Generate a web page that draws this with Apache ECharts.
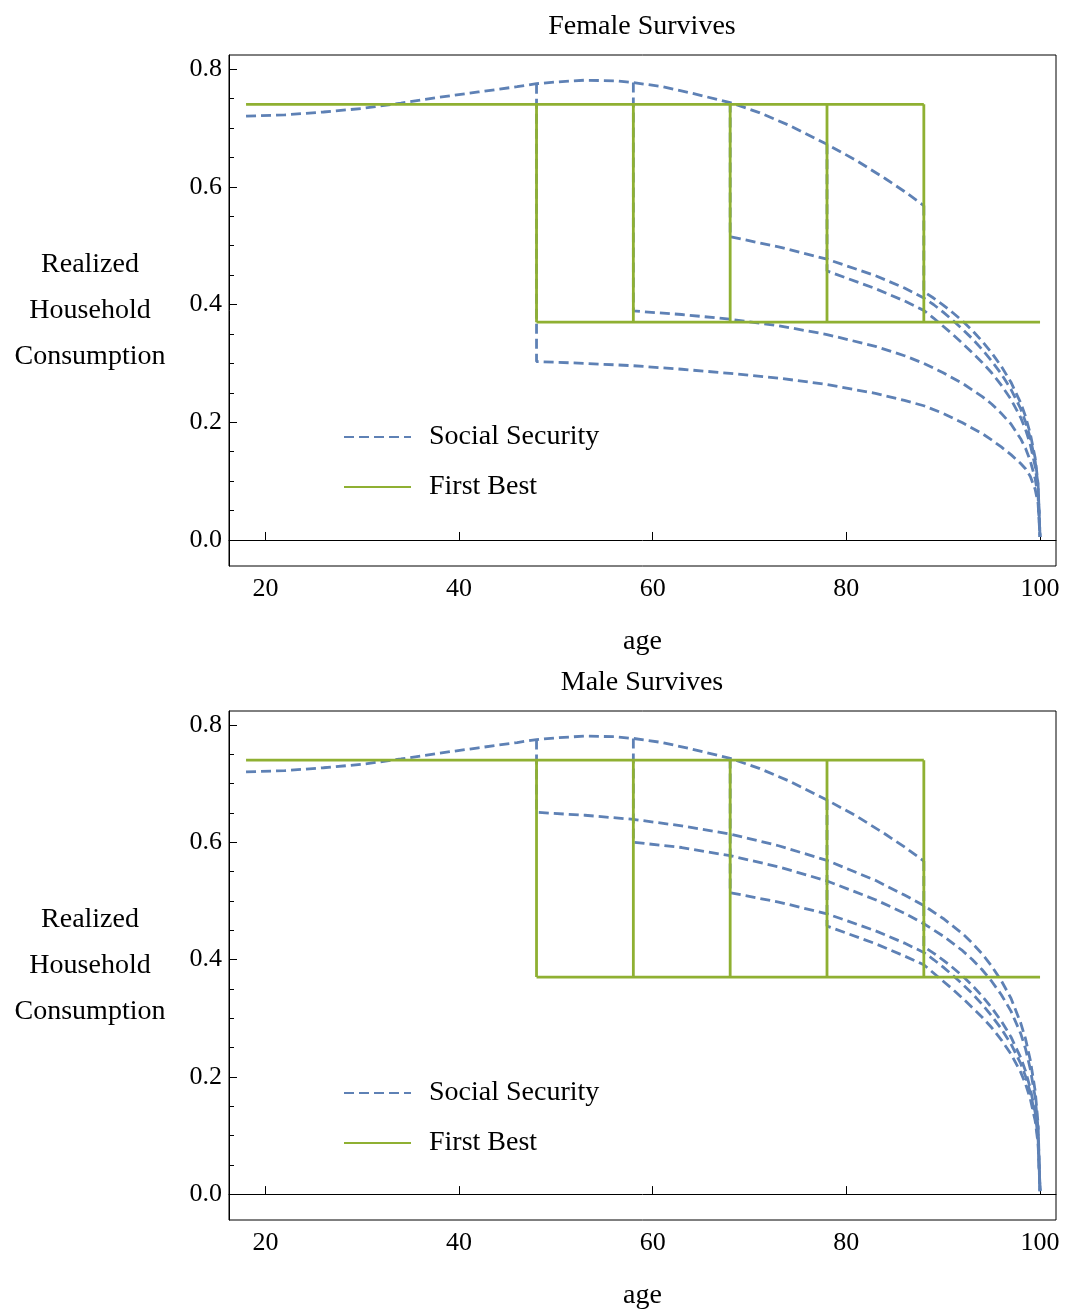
<!DOCTYPE html>
<html>
<head>
<meta charset="utf-8">
<script src="https://cdn.jsdelivr.net/npm/echarts@6/dist/echarts.min.js"></script>
<style>
  html, body { margin: 0; padding: 0; background: #ffffff; }
  #chart { width: 1065px; height: 1311px; }
</style>
</head>
<body>
<div id="chart"></div>
<script>
// ---- axis ticks ----
const ageTicks = [20, 40, 60, 80, 100];
const consTicks = [0, 0.2, 0.4, 0.6, 0.8];
const consMinorTicks = [0.05, 0.1, 0.15, 0.25, 0.3, 0.35, 0.45, 0.5, 0.55, 0.65, 0.7, 0.75];

// ---- first-best allocation ----
const deathAges = [48, 58, 68, 78, 88];
const firstBestCouple = 0.74;
const firstBestSurvivor = 0.37;
const firstBestStart = 18;
const lifeEnd = 100;

// ---- social security: consumption while both spouses are alive ----
const coupleAges = [18, 22, 26, 30, 34, 38, 42, 46, 48, 50, 53, 56, 58, 61, 64, 68, 71, 74, 78, 81, 84, 86, 88];
const coupleCons = [0.720, 0.722, 0.727, 0.733, 0.742, 0.752, 0.761, 0.770, 0.775, 0.778, 0.781, 0.780, 0.777,
                    0.770, 0.759, 0.743, 0.726, 0.705, 0.672, 0.645, 0.614, 0.592, 0.568];

// ---- social security: survivor paths [age, consumption], one per spouse death age ----
const femaleAfter48 = [[48,0.303],[53,0.300],[58,0.296],[63,0.290],[68,0.283],[73,0.275],[78,0.264],[83,0.249],[86,0.237],[88,0.228],[90,0.215],[92,0.199],[94,0.181],[95,0.170],[96,0.158],[97,0.145],[98,0.130],[98.5,0.121],[99,0.108],[99.5,0.086],[99.8,0.062],[100,0.005]];
const femaleAfter58 = [[58,0.389],[63,0.383],[68,0.375],[73,0.364],[78,0.349],[83,0.329],[86,0.313],[88,0.300],[90,0.284],[92,0.266],[94,0.244],[95,0.231],[96,0.215],[97,0.197],[98,0.172],[98.5,0.156],[99,0.134],[99.5,0.104],[99.8,0.074],[100,0.005]];
const femaleAfter68 = [[68,0.515],[73,0.498],[78,0.477],[83,0.449],[86,0.428],[88,0.411],[89,0.400],[90,0.387],[91,0.373],[92,0.358],[93,0.342],[94,0.324],[95,0.304],[96,0.282],[97,0.256],[98,0.223],[98.5,0.201],[99,0.173],[99.5,0.134],[99.8,0.092],[100,0.005]];
const femaleAfter78 = [[78,0.457],[83,0.427],[86,0.406],[88,0.390],[89,0.377],[90,0.363],[91,0.349],[92,0.334],[94,0.302],[95,0.284],[96,0.263],[97,0.239],[98,0.208],[98.5,0.188],[99,0.162],[99.5,0.125],[99.8,0.086],[100,0.005]];
const femaleAfter88 = [[88,0.422],[89,0.411],[90,0.399],[91,0.386],[92,0.372],[93,0.356],[94,0.338],[95,0.318],[96,0.295],[97,0.268],[98,0.233],[98.5,0.210],[99,0.180],[99.5,0.139],[99.8,0.095],[100,0.005]];

const maleAfter48 = [[48,0.651],[53,0.646],[58,0.639],[63,0.628],[68,0.614],[73,0.594],[78,0.569],[83,0.535],[86,0.510],[88,0.492],[90,0.470],[92,0.444],[93,0.428],[94,0.410],[95,0.389],[96,0.364],[97,0.334],[98,0.292],[98.5,0.265],[99,0.228],[99.5,0.176],[99.8,0.120],[100,0.005]];
const maleAfter58 = [[58,0.600],[63,0.591],[68,0.577],[73,0.558],[78,0.534],[83,0.502],[86,0.479],[88,0.461],[90,0.440],[92,0.415],[93,0.400],[94,0.383],[95,0.363],[96,0.340],[97,0.312],[98,0.274],[98.5,0.248],[99,0.213],[99.5,0.165],[99.8,0.112],[100,0.005]];
const maleAfter68 = [[68,0.514],[73,0.498],[78,0.478],[83,0.449],[86,0.428],[88,0.412],[89,0.400],[90,0.387],[91,0.373],[92,0.358],[93,0.342],[94,0.324],[95,0.304],[96,0.282],[97,0.256],[98,0.223],[98.5,0.201],[99,0.173],[99.5,0.134],[99.8,0.092],[100,0.005]];
const maleAfter78 = [[78,0.457],[83,0.427],[86,0.406],[88,0.391],[89,0.377],[90,0.363],[91,0.349],[92,0.334],[94,0.302],[95,0.284],[96,0.263],[97,0.239],[98,0.208],[98.5,0.188],[99,0.162],[99.5,0.125],[99.8,0.086],[100,0.005]];
const maleAfter88 = [[88,0.422],[89,0.411],[90,0.399],[91,0.386],[92,0.372],[93,0.356],[94,0.338],[95,0.318],[96,0.295],[97,0.268],[98,0.233],[98.5,0.210],[99,0.180],[99.5,0.139],[99.8,0.095],[100,0.005]];

const panels = [
  { title: 'Female Survives', paths: [femaleAfter48, femaleAfter58, femaleAfter68, femaleAfter78, femaleAfter88] },
  { title: 'Male Survives',   paths: [maleAfter48, maleAfter58, maleAfter68, maleAfter78, maleAfter88] }
];

// ---- styling ----
const SERIF = 'Liberation Serif';
const BLUE = '#5E81B5';
const GREEN = '#8FB032';
const FS_TEXT = 28;
const FS_TICK = 26;

const gridTops = [55, 711];
const gridHeight = 511;

const coupleAt = a => coupleCons[coupleAges.indexOf(a)];

const grids = [], xAxes = [], yAxes = [], series = [], titles = [], legends = [];

panels.forEach((p, g) => {
  grids.push({
    left: 229, width: 827, top: gridTops[g], height: gridHeight,
    show: true, borderColor: '#000', borderWidth: 1, backgroundColor: 'transparent'
  });
  titles.push({
    text: p.title, left: 642, top: gridTops[g] - 42, textAlign: 'center', padding: 0,
    textStyle: { fontFamily: SERIF, fontSize: FS_TEXT, fontWeight: 'normal', color: '#000' }
  });
  xAxes.push({
    type: 'value', gridIndex: g, min: 16.24, max: 101.65,
    name: 'age', nameLocation: 'middle', nameGap: 62,
    nameTextStyle: { fontFamily: SERIF, fontSize: FS_TEXT, color: '#000' },
    axisLine: { show: true, lineStyle: { color: '#000', width: 1 } },
    axisTick: { show: true, inside: true, length: 8, customValues: ageTicks, lineStyle: { color: '#000' } },
    axisLabel: { customValues: ageTicks, fontFamily: SERIF, fontSize: FS_TICK, color: '#000', margin: 10 },
    splitLine: { show: false }
  });
  yAxes.push({
    type: 'value', gridIndex: g, position: 'left', min: -0.0442, max: 0.8238,
    name: 'Realized\nHousehold\nConsumption', nameLocation: 'middle', nameRotate: 0, nameGap: 139,
    nameTextStyle: { fontFamily: SERIF, fontSize: FS_TEXT, color: '#000', align: 'center', lineHeight: 46 },
    axisLine: { show: true, lineStyle: { color: '#000', width: 1 } },
    axisTick: { show: true, inside: true, length: 8, customValues: consTicks, lineStyle: { color: '#000' } },
    axisLabel: { customValues: consTicks, formatter: v => v.toFixed(1), fontFamily: SERIF, fontSize: FS_TICK, color: '#000', margin: 7 },
    splitLine: { show: false }
  });
  // minor ticks on the consumption axis
  yAxes.push({
    type: 'value', gridIndex: g, position: 'left', offset: 0, min: -0.0442, max: 0.8238,
    axisLine: { show: false },
    axisTick: { show: true, inside: true, length: 5, customValues: consMinorTicks, lineStyle: { color: '#000' } },
    axisLabel: { show: false },
    splitLine: { show: false }
  });
  const yi = g * 2;

  const dashed = { color: BLUE, width: 2.8, type: [10, 5] };
  const solid = { color: GREEN, width: 2.8, type: 'solid' };
  const base = { type: 'line', xAxisIndex: g, yAxisIndex: yi, symbol: 'none', showSymbol: false,
                 animation: false, silent: true, clip: true };

  // social security: couple path
  series.push(Object.assign({}, base, {
    name: 'Social Security', lineStyle: dashed, itemStyle: { color: BLUE }, z: 2,
    data: coupleAges.map((a, i) => [a, coupleCons[i]])
  }));
  // social security: drop at the spouse's death, then the survivor path
  deathAges.forEach((d, k) => {
    series.push(Object.assign({}, base, {
      name: 'Social Security', lineStyle: dashed, itemStyle: { color: BLUE }, z: 2,
      data: [[d, coupleAt(d)]].concat(p.paths[k])
    }));
  });

  // first best: couple level, survivor level and the switch at each death age
  series.push(Object.assign({}, base, {
    name: 'First Best', lineStyle: solid, itemStyle: { color: GREEN }, z: 3,
    data: [[firstBestStart, firstBestCouple], [deathAges[deathAges.length - 1], firstBestCouple]]
  }));
  series.push(Object.assign({}, base, {
    name: 'First Best', lineStyle: solid, itemStyle: { color: GREEN }, z: 3,
    data: [[deathAges[0], firstBestSurvivor], [lifeEnd, firstBestSurvivor]]
  }));
  deathAges.forEach(d => {
    series.push(Object.assign({}, base, {
      name: 'First Best', lineStyle: solid, itemStyle: { color: GREEN }, z: 3,
      data: [[d, firstBestCouple], [d, firstBestSurvivor]]
    }));
  });

  legends.push({
    orient: 'vertical', left: 343, top: gridTops[g] + 367, padding: 0,
    itemWidth: 67, itemHeight: 14, itemGap: 20,
    data: ['Social Security', 'First Best'],
    selectedMode: false,
    itemStyle: { opacity: 0 },
    lineStyle: { opacity: 1 },
    textStyle: { fontFamily: SERIF, fontSize: FS_TEXT, color: '#000', lineHeight: 30, padding: [0, 0, 0, 13] }
  });
});

const chart = echarts.init(document.getElementById('chart'), null, { renderer: 'canvas' });
chart.setOption({
  backgroundColor: '#ffffff',
  animation: false,
  title: titles,
  legend: legends,
  grid: grids,
  xAxis: xAxes,
  yAxis: yAxes,
  series: series
});
</script>
</body>
</html>
